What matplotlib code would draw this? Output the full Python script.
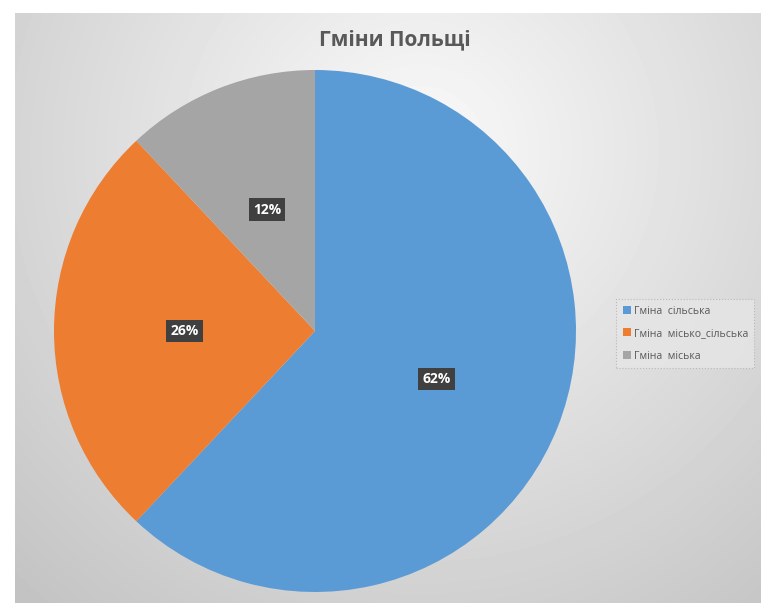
import numpy as np
import matplotlib.pyplot as plt

labels = ['Гміна  сільська', 'Гміна  місько_сільська', 'Гміна  міська']
shares = [62, 26, 12]
colors = ['#5B9BD5', '#ED7D31', '#A5A5A5']

plt.rcParams['font.family'] = ['Open Sans', 'DejaVu Sans']

W, H = 761, 603
fig = plt.figure(figsize=(W / 100, H / 100), dpi=100)

# background with radial gradient
bg = fig.add_axes([15 / W, 0, 1 - 15 / W, 1 - 13 / H])
yy, xx = np.mgrid[13:H, 15:W]
d = np.sqrt((xx - 420) ** 2 + (yy - 150) ** 2)
g = np.clip(250 - 0.092 * d, 0, 255) / 255
bg.imshow(g, cmap='gray', vmin=0, vmax=1, aspect='auto', interpolation='bilinear')
bg.axis('off')

r = 261
cx, cy = 315, 331
ax = fig.add_axes([(cx - r) / W, (H - cy - r) / H, 2 * r / W, 2 * r / H])
wedges, _, pcts = ax.pie(shares, colors=colors, startangle=90, counterclock=False,
                         autopct=lambda p: '%d%%' % round(p), pctdistance=0.5,
                         wedgeprops=dict(linewidth=0))
for t in pcts:
    t.set_color('white')
    t.set_fontsize(10)
    t.set_fontweight('bold')
    t.set_bbox(dict(facecolor='#404040', edgecolor='none', boxstyle='square,pad=0.3'))
ax.set_xlim(-1, 1)
ax.set_ylim(-1, 1)
ax.axis('off')

fig.text(395 / W, 1 - 40 / H, 'Гміни Польщі', ha='center', va='center',
         fontsize=15, fontweight='bold', color='#595959')

leg = fig.legend(wedges, labels, loc='upper left', bbox_to_anchor=(613 / W, 1 - 296 / H),
                 fontsize=7.6, frameon=True, fancybox=False, handlelength=0.8,
                 handleheight=0.8, handletextpad=0.25, labelspacing=1.1,
                 borderpad=0.6, borderaxespad=0.3, labelcolor='#595959')
leg.get_frame().set_facecolor('#e6e6e6')
leg.get_frame().set_edgecolor('#b0b0b0')
leg.get_frame().set_linestyle(':')
leg.get_frame().set_linewidth(0.8)

fig.savefig('out.png', dpi=100)
